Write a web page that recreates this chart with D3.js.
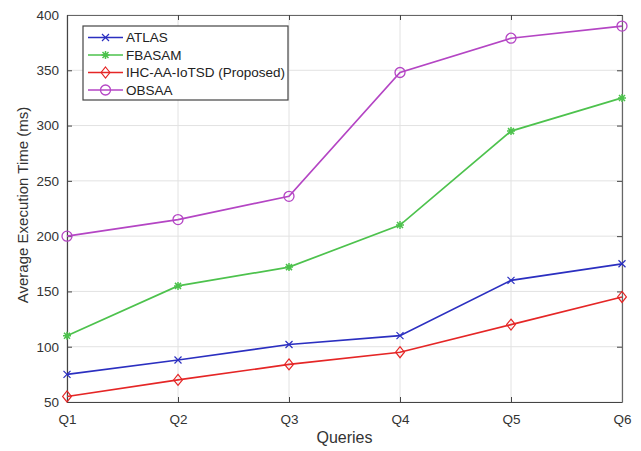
<!DOCTYPE html>
<html><head><meta charset="utf-8">
<script src="https://cdn.jsdelivr.net/npm/d3@7"></script>
<style>body{margin:0;background:#fff}text{font-family:"Liberation Sans",Arial,sans-serif}</style>
</head><body><svg id="c" width="641" height="451"></svg>
<script>
const categories = ["Q1","Q2","Q3","Q4","Q5","Q6"];
const atlas = [75, 88, 102, 110, 160, 175];
const fbasam = [110, 155, 172, 210, 295, 325];
const ihc = [55, 70, 84, 95, 120, 145];
const obsaa = [200, 215, 236, 348, 379, 390];
const yTicks = [50,100,150,200,250,300,350,400];
const seriesNames = ["ATLAS","FBASAM","IHC-AA-IoTSD (Proposed)","OBSAA"];

const series = [
  {name: seriesNames[0], values: atlas, color: "#2b2fc0", marker: "x"},
  {name: seriesNames[1], values: fbasam, color: "#4dc24d", marker: "star"},
  {name: seriesNames[2], values: ihc, color: "#e52626", marker: "diamond"},
  {name: seriesNames[3], values: obsaa, color: "#b445c4", marker: "circle"}
];

const svg = d3.select("#c");
const L = 67, R = 622, T = 15, B = 402;
const x = d3.scalePoint().domain(categories).range([L, R]);
const y = d3.scaleLinear().domain([50, 400]).range([B, T]);

// grid
const g = svg.append("g");
g.selectAll(".gx").data(categories).enter().append("line")
  .attr("x1", d => x(d)).attr("x2", d => x(d)).attr("y1", T).attr("y2", B)
  .attr("stroke", "#e2e2e2").attr("stroke-width", 1);
g.selectAll(".gy").data(yTicks).enter().append("line")
  .attr("x1", L).attr("x2", R).attr("y1", d => y(d)).attr("y2", d => y(d))
  .attr("stroke", "#e2e2e2").attr("stroke-width", 1);

// axes
const axCol = "#444";
const xa = svg.append("g").attr("transform", `translate(0,${B})`)
  .call(d3.axisBottom(x).tickSizeInner(-5).tickSizeOuter(0).tickPadding(12));
const ya = svg.append("g").attr("transform", `translate(${L},0)`)
  .call(d3.axisLeft(y).tickValues(yTicks).tickSizeInner(-5).tickSizeOuter(0).tickPadding(8));
const xt = svg.append("g").attr("transform", `translate(0,${T})`)
  .call(d3.axisTop(x).tickSizeInner(-5).tickSizeOuter(0).tickFormat(""));
const yr = svg.append("g").attr("transform", `translate(${R},0)`)
  .call(d3.axisRight(y).tickValues(yTicks).tickSizeInner(-5).tickSizeOuter(0).tickFormat(""));
[xa, ya, xt, yr].forEach(a => {
  a.select(".domain").attr("stroke", axCol).attr("stroke-width", 1.2);
  a.selectAll(".tick line").attr("stroke", axCol);
  a.selectAll(".tick text").attr("fill", "#333").style("font-size", "13.5px")
    .style("font-family", '"Liberation Sans",Arial,sans-serif');
});
xt.select(".domain").attr("stroke", "#666");
yr.select(".domain").attr("stroke", "#666");

// labels
svg.append("text").attr("x", (L + R) / 2).attr("y", 443).attr("text-anchor", "middle")
  .attr("fill", "#333").style("font-size", "16px").text("Queries");
svg.append("text").attr("transform", `translate(28,${205}) rotate(-90)`)
  .attr("text-anchor", "middle").attr("fill", "#333").style("font-size", "15px")
  .text("Average Execution Time (ms)");

function marker(sel, type, color, cx, cy) {
  if (type === "x") {
    const s = 3.5;
    sel.append("path").attr("d", `M${cx-s},${cy-s}L${cx+s},${cy+s}M${cx-s},${cy+s}L${cx+s},${cy-s}`)
      .attr("stroke", color).attr("stroke-width", 1.2).attr("fill", "none");
  } else if (type === "star") {
    const s = 4;
    sel.append("path").attr("d", `M${cx-s},${cy}L${cx+s},${cy}M${cx},${cy-s}L${cx},${cy+s}M${cx-3},${cy-3}L${cx+3},${cy+3}M${cx-3},${cy+3}L${cx+3},${cy-3}`)
      .attr("stroke", color).attr("stroke-width", 1.5).attr("fill", "none");
  } else if (type === "diamond") {
    const s = 5.5;
    sel.append("path").attr("d", `M${cx},${cy-s}L${cx+s*0.8},${cy}L${cx},${cy+s}L${cx-s*0.8},${cy}Z`)
      .attr("stroke", color).attr("stroke-width", 1.2).attr("fill", "none");
  } else {
    sel.append("circle").attr("cx", cx).attr("cy", cy).attr("r", 5)
      .attr("stroke", color).attr("stroke-width", 1.3).attr("fill", "none");
  }
}

const line = d3.line().x((d, i) => x(categories[i])).y(d => y(d));
series.forEach(s => {
  svg.append("path").datum(s.values).attr("d", line)
    .attr("fill", "none").attr("stroke", s.color).attr("stroke-width", 1.7);
  const mg = svg.append("g");
  s.values.forEach((v, i) => marker(mg, s.marker, s.color, x(categories[i]), y(v)));
});

// legend
const lg = svg.append("g");
lg.append("rect").attr("x", 83).attr("y", 26).attr("width", 205).attr("height", 74)
  .attr("fill", "#fff").attr("stroke", "#444").attr("stroke-width", 1.2);
series.forEach((s, i) => {
  const yy = 37.5 + i * 17.5;
  lg.append("line").attr("x1", 88).attr("x2", 123).attr("y1", yy).attr("y2", yy)
    .attr("stroke", s.color).attr("stroke-width", 1.7);
  marker(lg, s.marker, s.color, 105.5, yy);
  lg.append("text").attr("x", 126).attr("y", yy + 4.8).attr("fill", "#222")
    .style("font-size", "13.5px").text(s.name);
});
</script></body></html>
